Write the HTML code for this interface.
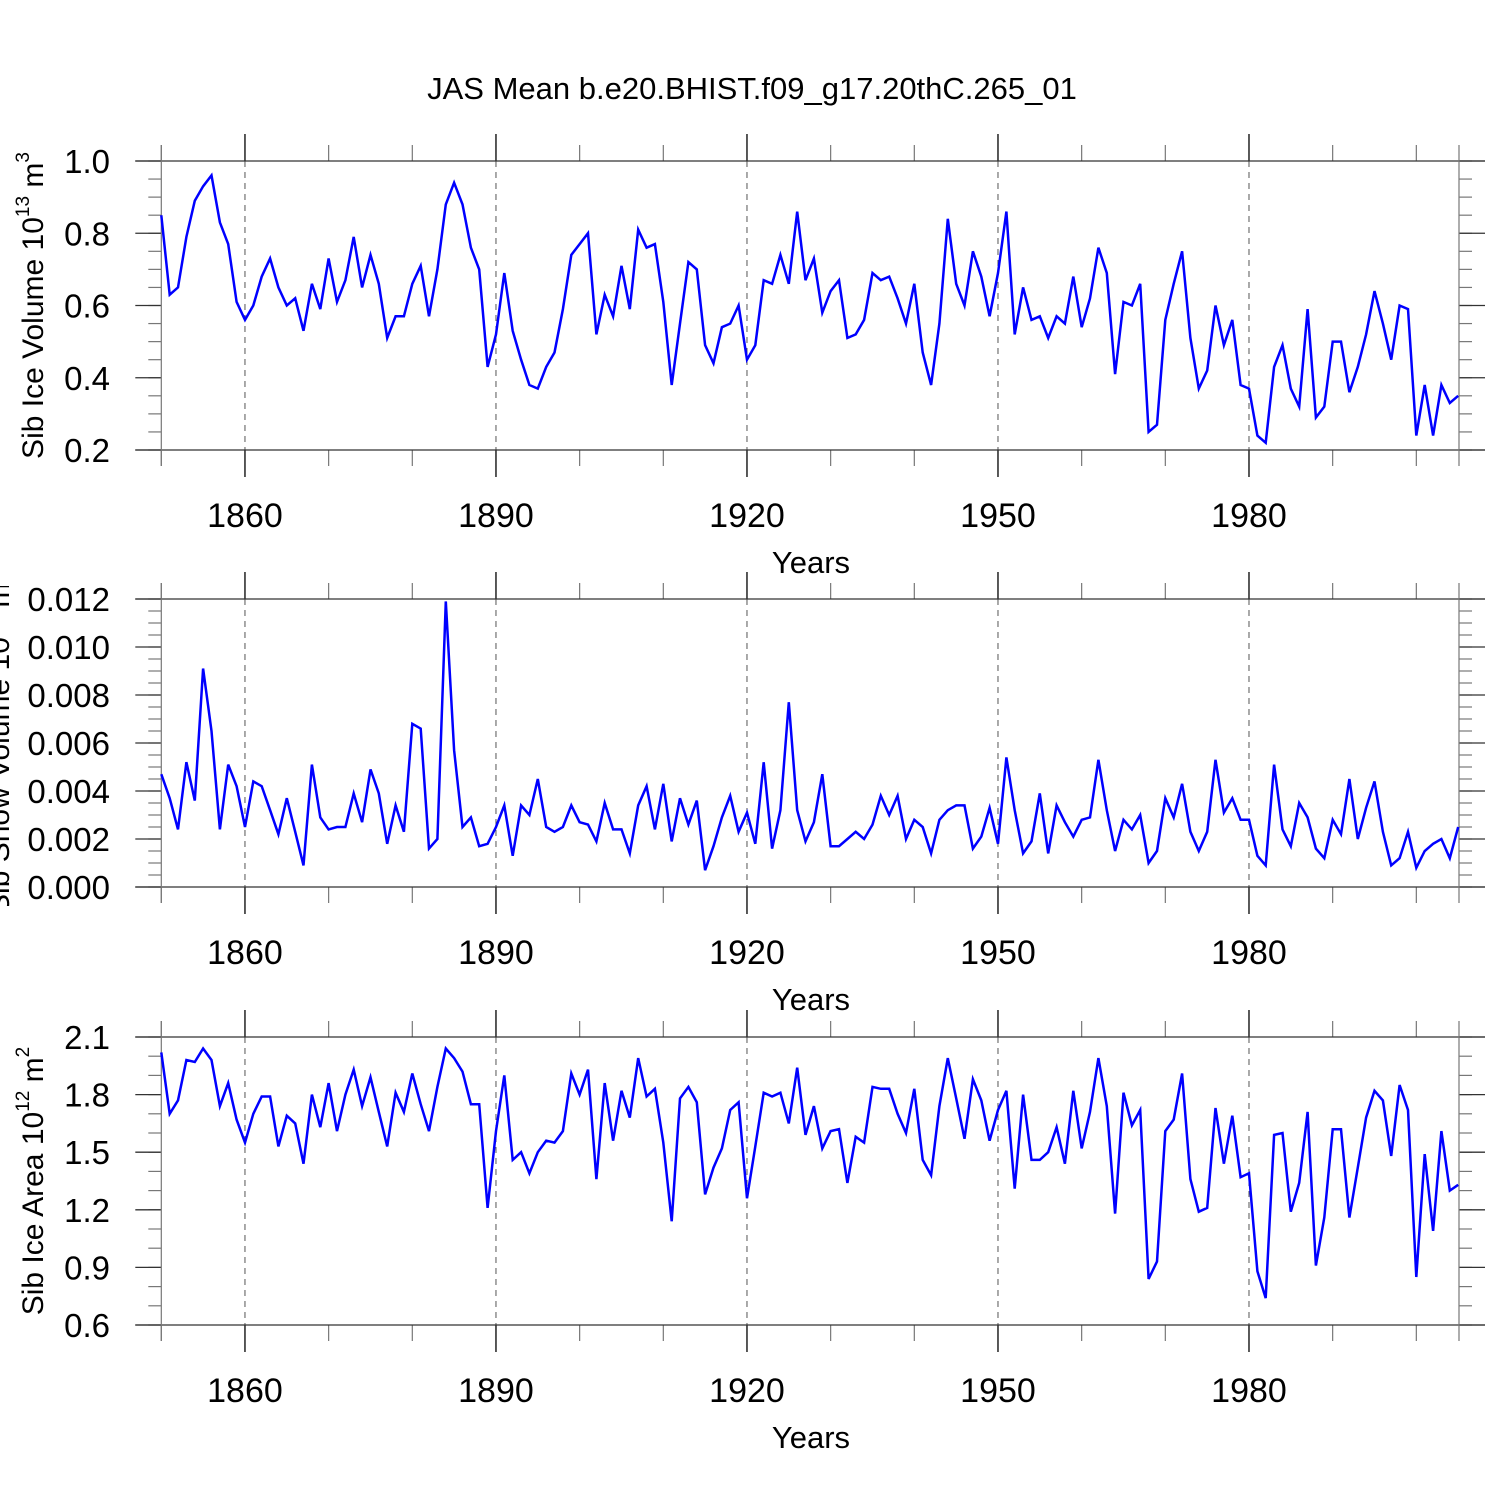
<!DOCTYPE html>
<html><head><meta charset="utf-8"><style>
html,body{margin:0;padding:0;background:#fff;}
svg{display:block;font-family:"Liberation Sans",sans-serif;}
</style></head><body>
<svg id="chart" width="1500" height="1500" viewBox="0 0 1500 1500">
<rect width="1500" height="1500" fill="#fff"/>
<text x="752" y="99" font-size="31" text-anchor="middle">JAS Mean b.e20.BHIST.f09_g17.20thC.265_01</text>
<defs><clipPath id="clip2"><rect x="0" y="586" width="60" height="320"/></clipPath></defs>
</svg>
<script>
const years = []; for (let y = 1850; y <= 2005; y++) years.push(y);
const iceVolume = [0.85,0.63,0.65,0.79,0.89,0.93,0.96,0.83,0.77,0.61,
0.56,0.60,0.68,0.73,0.65,0.60,0.62,0.53,0.66,0.59,
0.73,0.61,0.67,0.79,0.65,0.74,0.66,0.51,0.57,0.57,
0.66,0.71,0.57,0.70,0.88,0.94,0.88,0.76,0.70,0.43,
0.52,0.69,0.53,0.45,0.38,0.37,0.43,0.47,0.59,0.74,
0.77,0.80,0.52,0.63,0.57,0.71,0.59,0.81,0.76,0.77,
0.61,0.38,0.55,0.72,0.70,0.49,0.44,0.54,0.55,0.60,
0.45,0.49,0.67,0.66,0.74,0.66,0.86,0.67,0.73,0.58,
0.64,0.67,0.51,0.52,0.56,0.69,0.67,0.68,0.62,0.55,
0.66,0.47,0.38,0.55,0.84,0.66,0.60,0.75,0.68,0.57,
0.69,0.86,0.52,0.65,0.56,0.57,0.51,0.57,0.55,0.68,
0.54,0.62,0.76,0.69,0.41,0.61,0.60,0.66,0.25,0.27,
0.56,0.66,0.75,0.51,0.37,0.42,0.60,0.49,0.56,0.38,
0.37,0.24,0.22,0.43,0.49,0.37,0.32,0.59,0.29,0.32,
0.50,0.50,0.36,0.43,0.52,0.64,0.55,0.45,0.60,0.59,
0.24,0.38,0.24,0.38,0.33,0.35];
const snowVolume = [4.7,3.7,2.4,5.2,3.6,9.1,6.5,2.4,5.1,4.2,
2.5,4.4,4.2,3.2,2.2,3.7,2.3,0.9,5.1,2.9,
2.4,2.5,2.5,3.9,2.7,4.9,3.9,1.8,3.4,2.3,
6.8,6.6,1.6,2.0,11.9,5.7,2.5,2.9,1.7,1.8,
2.5,3.4,1.3,3.4,3.0,4.5,2.5,2.3,2.5,3.4,
2.7,2.6,1.9,3.5,2.4,2.4,1.4,3.4,4.2,2.4,
4.3,1.9,3.7,2.6,3.6,0.7,1.7,2.9,3.8,2.3,
3.1,1.8,5.2,1.6,3.2,7.7,3.2,1.9,2.7,4.7,
1.7,1.7,2.0,2.3,2.0,2.6,3.8,3.0,3.8,2.0,
2.8,2.5,1.4,2.8,3.2,3.4,3.4,1.6,2.1,3.3,
1.8,5.4,3.2,1.4,1.9,3.9,1.4,3.4,2.7,2.1,
2.8,2.9,5.3,3.2,1.5,2.8,2.4,3.0,1.0,1.5,
3.7,2.9,4.3,2.3,1.5,2.3,5.3,3.1,3.7,2.8,
2.8,1.3,0.9,5.1,2.4,1.7,3.5,2.9,1.6,1.2,
2.8,2.2,4.5,2.0,3.3,4.4,2.3,0.9,1.2,2.3,
0.8,1.5,1.8,2.0,1.2,2.5].map(v => v / 1000);
const iceArea = [2.02,1.70,1.77,1.98,1.97,2.04,1.98,1.74,1.86,1.67,
1.55,1.70,1.79,1.79,1.53,1.69,1.65,1.44,1.80,1.63,
1.86,1.61,1.80,1.93,1.74,1.89,1.71,1.53,1.81,1.71,
1.91,1.75,1.61,1.84,2.04,1.99,1.92,1.75,1.75,1.21,
1.61,1.90,1.46,1.50,1.39,1.50,1.56,1.55,1.61,1.91,
1.80,1.93,1.36,1.86,1.56,1.82,1.68,1.99,1.79,1.83,
1.55,1.14,1.78,1.84,1.76,1.28,1.42,1.52,1.72,1.76,
1.26,1.53,1.81,1.79,1.81,1.65,1.94,1.59,1.74,1.52,
1.61,1.62,1.34,1.58,1.55,1.84,1.83,1.83,1.70,1.60,
1.83,1.46,1.38,1.74,1.99,1.78,1.57,1.88,1.77,1.56,
1.72,1.82,1.31,1.80,1.46,1.46,1.50,1.63,1.44,1.82,
1.52,1.71,1.99,1.74,1.18,1.81,1.64,1.72,0.84,0.93,
1.61,1.67,1.91,1.36,1.19,1.21,1.73,1.44,1.69,1.37,
1.39,0.88,0.74,1.59,1.60,1.19,1.34,1.71,0.91,1.16,
1.62,1.62,1.16,1.42,1.68,1.82,1.77,1.48,1.85,1.72,
0.85,1.49,1.09,1.61,1.30,1.33];
const xMajorTicks = [1860,1890,1920,1950,1980];
const yTicks1 = ["0.2","0.4","0.6","0.8","1.0"];
const yTicks2 = ["0.000","0.002","0.004","0.006","0.008","0.010","0.012"];
const yTicks3 = ["0.6","0.9","1.2","1.5","1.8","2.1"];

const NS = "http://www.w3.org/2000/svg";
const svg = document.getElementById('chart');
function mk(tag, attrs, parent) {
  const e = document.createElementNS(NS, tag);
  for (const k in attrs) e.setAttribute(k, attrs[k]);
  (parent || svg).appendChild(e);
  return e;
}
const X0 = 161.3, X1 = 1459, Y0YR = 1850, Y1YR = 2005.1;
const xs = yr => X0 + (yr - Y0YR) * (X1 - X0) / (Y1YR - Y0YR);

function panel(name, top, bot, ymin, ymax, ticks, minorStep, data, ylabel, clip) {
  const g = mk('g', {});
  
  
  const ys = v => bot - (v - ymin) * (bot - top) / (ymax - ymin);
  xMajorTicks.forEach(yr => {
    const l = mk('line', {x1: xs(yr), x2: xs(yr), y1: top, y2: bot, stroke: '#555', 'stroke-width': 1, 'stroke-dasharray': '6,5'}, g);
    
    
  });
  for (let yr = 1850; yr <= 2005; yr += 10) {
    if (xMajorTicks.includes(yr)) continue;
    mk('line', {x1: xs(yr), x2: xs(yr), y1: top - 16, y2: top, stroke: '#777', 'stroke-width': 1.2}, g);
    mk('line', {x1: xs(yr), x2: xs(yr), y1: bot, y2: bot + 16, stroke: '#777', 'stroke-width': 1.2}, g);
  }
  xMajorTicks.forEach(yr => {
    mk('line', {x1: xs(yr), x2: xs(yr), y1: top - 27, y2: top, stroke: '#000', 'stroke-width': 1.3}, g);
    mk('line', {x1: xs(yr), x2: xs(yr), y1: bot, y2: bot + 27, stroke: '#000', 'stroke-width': 1.3}, g);
    const t = mk('text', {x: xs(yr), y: bot + 77, 'font-size': 34, 'text-anchor': 'middle'}, g);
    t.textContent = yr;
    
    
  });
  for (let v = ymin; v <= ymax + 1e-9; v += minorStep) {
    const y = ys(v);
    mk('line', {x1: X0 - 13, x2: X0, y1: y, y2: y, stroke: '#777', 'stroke-width': 1.2}, g);
    mk('line', {x1: X1, x2: X1 + 13, y1: y, y2: y, stroke: '#777', 'stroke-width': 1.2}, g);
  }
  ticks.forEach(s => {
    const y = ys(parseFloat(s));
    mk('line', {x1: X0 - 26, x2: X0, y1: y, y2: y, stroke: '#333', 'stroke-width': 1.3}, g);
    mk('line', {x1: X1, x2: X1 + 26, y1: y, y2: y, stroke: '#333', 'stroke-width': 1.3}, g);
    const t = mk('text', {x: 110, y: y + 12, 'font-size': 33, 'text-anchor': 'end'}, g);
    t.textContent = s;
    
    
  });
  mk('line', {x1: X0 - 26, x2: X1 + 26, y1: top, y2: top, stroke: '#333', 'stroke-width': 1.3}, g);
  mk('line', {x1: X0 - 26, x2: X1 + 26, y1: bot, y2: bot, stroke: '#333', 'stroke-width': 1.3}, g);
  mk('line', {x1: X0, x2: X0, y1: top - 16, y2: bot + 16, stroke: '#777', 'stroke-width': 1.2}, g);
  mk('line', {x1: X1, x2: X1, y1: top - 16, y2: bot + 16, stroke: '#777', 'stroke-width': 1.2}, g);
  const pts = data.map((v, i) => xs(years[i]).toFixed(1) + ',' + ys(v).toFixed(1)).join(' ');
  const pl = mk('polyline', {points: pts, fill: 'none', stroke: '#0000ff', 'stroke-width': 2.5, 'stroke-linejoin': 'miter'}, g);
  
  
  const xt = mk('text', {x: 811, y: bot + 123, 'font-size': 31, 'text-anchor': 'middle'}, g);
  xt.textContent = 'Years';
  
  
  const cy = (top + bot) / 2;
  let parent = g;
  if (clip) parent = mk('g', {'clip-path': 'url(#clip2)'}, g);
  const yt = mk('text', {x: 0, y: 0, 'font-size': 30, 'text-anchor': 'middle', transform: 'translate(' + (clip ? 9 : 43) + ',' + cy + ') rotate(-90)'}, parent);
  yt.innerHTML = ylabel;
  
  
}
const sup = s => '<tspan dy="-14" font-size="19">' + s + '</tspan><tspan dy="14"> </tspan>';
panel('ice-volume-panel', 161, 450, 0.2, 1.0, yTicks1, 0.05, iceVolume, 'Sib Ice Volume 10' + sup('13') + 'm' + sup('3'), false);
panel('snow-volume-panel', 599, 887, 0, 0.012, yTicks2, 0.0005, snowVolume, 'Sib Snow Volume 10' + sup('13') + 'm' + sup('3'), true);
panel('ice-area-panel', 1037, 1325, 0.6, 2.1, yTicks3, 0.1, iceArea, 'Sib Ice Area 10' + sup('12') + 'm' + sup('2'), false);
</script>
</body></html>
